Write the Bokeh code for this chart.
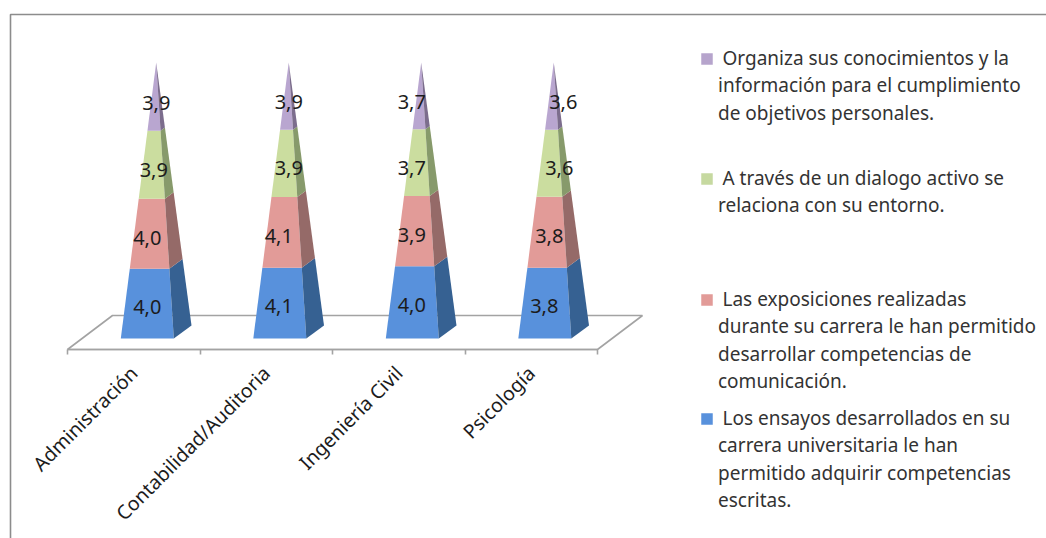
from bokeh.plotting import figure
from bokeh.models import ColumnDataSource, LinearAxis, FixedTicker
from bokeh.core.properties import value
from bokeh.embed import file_html
from bokeh.resources import INLINE
import math

# ---- data ----
categories = ["Administración", "Contabilidad/Auditoria", "Ingeniería Civil", "Psicología"]
ensayos = [4.0, 4.1, 4.0, 3.8]
exposiciones = [4.0, 4.1, 3.9, 3.8]
dialogo = [3.9, 3.9, 3.7, 3.6]
organiza = [3.9, 3.9, 3.7, 3.6]
series_values = [ensayos, exposiciones, dialogo, organiza]

legend_lines = [
    ["Organiza sus conocimientos y la", "información para el cumplimiento", "de objetivos personales."],
    ["A través de un dialogo activo se", "relaciona con su entorno."],
    ["Las exposiciones realizadas", "durante su carrera le han permitido", "desarrollar competencias de", "comunicación."],
    ["Los ensayos desarrollados en su", "carrera universitaria le han", "permitido adquirir competencias", "escritas."],
]

# ---- style ----
front = ["#5891dc", "#e29b98", "#cbdd9f", "#b9a6d0"]
side = ["#366192", "#956a68", "#879a6b", "#7c6d8d"]
swatch = ["#5891dc", "#e29b98", "#c6d9a0", "#b6a4cc"]
label_shift_px = [[13.5, 13.5, 20, 22.5], [12.5, 12.5, 22.5, 22.5], [13, 13, 13, 13], [13, 18, 28, 32]]
label_y_px = [-3, -4, -5, -6]
FONT = "Noto Sans"
W, H = 1046, 538
PX_X = 132.5   # pixels per category
PX_Y = 276.0   # pixels for 100 %
X0, Y0 = 67, 338   # page position of the data origin

def dx(px):
    return px / PX_X
def dy(px):
    return px / PX_Y
def page_x(x):
    return (x - X0) / PX_X
def page_y(y):
    return (Y0 - y) / PX_Y

p = figure(width=W, height=H, output_backend="svg", toolbar_location=None, min_border=0,
           x_range=(-X0 / PX_X, (W - X0) / PX_X), y_range=((Y0 - H) / PX_Y, Y0 / PX_Y),
           x_axis_location=None, y_axis_location=None, tools="")
p.grid.visible = False
p.outline_line_color = None
p.background_fill_color = "white"
p.border_fill_color = "white"

GREY = "#a3a3a3"
# chart frame: only the left and top edges show in the picture
p.line([page_x(10), page_x(10), page_x(W)], [page_y(H), page_y(14), page_y(14)],
       line_color="#8c8c8c", line_width=1.6)

# floor
n = len(categories)
fy = dy(-11)
depth_x, depth_y = dx(45), dy(34)
p.patch([0, n, n + depth_x, depth_x], [fy, fy, fy + depth_y, fy + depth_y],
        fill_color="white", line_color=GREY, line_width=1.6)

# pyramid geometry, in category units / share of the stack
FL = dx(120.3 - 133.25); FR = dx(173.3 - 133.25); BR = dx(191 - 133.25); AP = dx(155.7 - 133.25)
BACK_UP = dy(13)

def lerp(a, b, t):
    return a + (b - a) * t

labels = {"x": [], "y": [], "t": [], "off": []}
for i in range(n):
    c = i + 0.5
    total = sum(s[i] for s in series_values)
    bottom = 0.0
    for k, s in enumerate(series_values):
        top = bottom + s[i] / total
        xs = [c + lerp(FL, AP, bottom), c + lerp(FR, AP, bottom), c + lerp(FR, AP, top), c + lerp(FL, AP, top)]
        p.patch(xs, [bottom, bottom, top, top], fill_color=front[k], line_color=None)
        ys2 = [bottom, lerp(BACK_UP, 1, bottom), lerp(BACK_UP, 1, top), top]
        xs2 = [c + lerp(FR, AP, bottom), c + lerp(BR, AP, bottom), c + lerp(BR, AP, top), c + lerp(FR, AP, top)]
        p.patch(xs2, ys2, fill_color=side[k], line_color=None)
        labels["x"].append(c + dx(label_shift_px[i][k]))
        labels["y"].append((bottom + top) / 2)
        labels["t"].append(f"{s[i]:.1f}".replace(".", ","))
        labels["off"].append(-label_y_px[k])
        bottom = top

p.text("x", "y", text="t", y_offset="off", source=ColumnDataSource(labels), text_align="center",
       text_baseline="middle", text_font=value(FONT), text_font_size="20px", text_color="#1c1c1c")

# axis: ticks at category boundaries, labels at category centres
tick_axis = LinearAxis(ticker=FixedTicker(ticks=list(range(n + 1))), fixed_location=fy, bounds=(0, n),
                       axis_line_color=GREY, axis_line_width=1.6, major_tick_line_color=GREY,
                       major_tick_line_width=1.6, major_tick_in=0, major_tick_out=5,
                       minor_tick_line_color=None, major_label_text_font_size="0px",
                       major_label_text_color=None)
p.add_layout(tick_axis, "below")
label_axis = LinearAxis(ticker=FixedTicker(ticks=[i + 0.5 for i in range(n)]), fixed_location=fy,
                        axis_line_color=None, major_tick_line_color=None, minor_tick_line_color=None,
                        major_label_overrides={i + 0.5: c for i, c in enumerate(categories)},
                        major_label_orientation=math.pi / 4, major_label_standoff=14,
                        major_label_text_font=FONT, major_label_text_font_size="19.5px",
                        major_label_text_color="#1c1c1c")
p.add_layout(label_axis, "below")

# legend
first_y = [57.5, 177.5, 298.5, 417.5]
LINE = 27.4
rows = {"x": [], "y": [], "t": []}
for g, lines in enumerate(legend_lines):
    p.scatter([page_x(706.5)], [page_y(first_y[g] + 1)], marker="square", size=11.5,
              fill_color=swatch[3 - g], line_color=None)
    for j, t in enumerate(lines):
        rows["x"].append(page_x(722 if j == 0 else 717.5))
        rows["y"].append(page_y(first_y[g] + j * LINE))
        rows["t"].append(t)
p.text("x", "y", text="t", source=ColumnDataSource(rows), text_align="left", text_baseline="middle",
       text_font=value(FONT), text_font_size="19px", text_color="#333333")

open("out.html", "w").write(file_html(p, INLINE))
